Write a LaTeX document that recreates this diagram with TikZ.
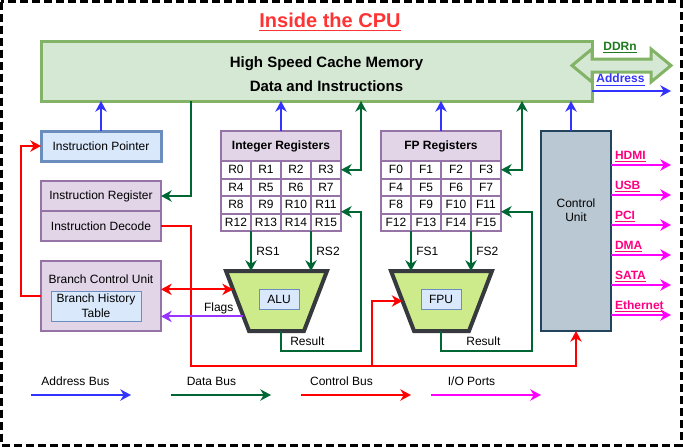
\documentclass[tikz,border=0pt]{standalone}
\usepackage{fontspec}
\setmainfont{Liberation Sans}
\usepackage{tikz}
\usetikzlibrary{arrows.meta, positioning, calc, shapes.geometric}

\definecolor{cachefill}{HTML}{D5E8D4}
\definecolor{cachedraw}{HTML}{82B366}
\definecolor{bluefill}{HTML}{DAE8FC}
\definecolor{bluedraw}{HTML}{6C8EBF}
\definecolor{purplefill}{HTML}{E1D5E7}
\definecolor{purpledraw}{HTML}{9673A6}
\definecolor{alufill}{HTML}{CDEB8B}
\definecolor{aludraw}{HTML}{36393D}
\definecolor{cufill}{HTML}{BAC8D3}
\definecolor{cudraw}{HTML}{23445D}
\definecolor{addrblue}{HTML}{3333FF}
\definecolor{datagreen}{HTML}{006633}
\definecolor{ctrlred}{HTML}{FF0000}
\definecolor{flagpurple}{HTML}{9933FF}
\definecolor{iomagenta}{HTML}{FF00FF}
\definecolor{iolabel}{HTML}{FF0080}
\definecolor{titlered}{HTML}{FF3333}
\definecolor{ddrgreen}{HTML}{1E7A1E}

\begin{document}
\begin{tikzpicture}[
			x=0.75pt, y=-0.75pt,
			>={Stealth[length=8pt, width=8.5pt, inset=2.5pt]},
			font=\fontsize{9}{10.8}\selectfont,
			every node/.style={inner sep=0pt, outer sep=0pt},
			cachebox/.style={draw=cachedraw, fill=cachefill, line width=2.25pt, minimum width=413.25pt, minimum height=45pt},
			ptrbox/.style={draw=bluedraw, fill=bluefill, line width=2.25pt, minimum width=90pt, minimum height=22.5pt},
			regbox/.style={draw=purpledraw, fill=purplefill, line width=1.5pt, minimum width=90pt, minimum height=22.5pt},
			cell/.style={draw=purpledraw, fill=white, line width=1.5pt, minimum width=22.5pt, minimum height=13.125pt},
			tablebox/.style={draw=bluedraw, fill=bluefill, line width=0.75pt, align=center, font=\fontsize{9}{11.25}\selectfont},
			unitbox/.style={trapezium, trapezium angle=69, shape border rotate=180, draw=aludraw, fill=alufill, line width=3pt, inner xsep=20.6pt, inner ysep=22.5pt},
			cubox/.style={draw=cudraw, fill=cufill, line width=1.1pt, minimum width=52.5pt, minimum height=150pt},
			boldtxt/.style={font=\fontsize{9}{10.8}\selectfont\bfseries},
			addrbus/.style={draw=addrblue, line width=1.5pt},
			databus/.style={draw=datagreen, line width=1.5pt},
			ctrlbus/.style={draw=ctrlred, line width=1.5pt},
			flagline/.style={draw=flagpurple, line width=1.5pt},
			iobus/.style={draw=iomagenta, line width=1.5pt}
			]
			\useasboundingbox (0,0) rectangle (683,447);
			\draw[line width=2.25pt, dash pattern=on 6pt off 3pt] (1.5,1.5) rectangle (681,445);
			
			% --- Cache and title ---
			\node[font=\fontsize{15}{18}\selectfont\bfseries, text=titlered] (title) at (330,22) {\underline{Inside the CPU}};
			\node[cachebox] (cache) at (316.5,71) {};
			\node[align=center, font=\fontsize{11.25}{18}\selectfont\bfseries] (cachetxt) at ($(cache.center)+(10,3)$) {High Speed Cache Memory\\Data and Instructions};
			\draw[draw=cachedraw, fill=cachefill, line width=2.25pt] (572,65.5) -- (592,49) -- (592,59) -- (651,59) -- (651,49) -- (671,65.5) -- (651,82) -- (651,72) -- (592,72) -- (592,82) -- cycle; % DDRn double arrow
			\node[boldtxt, text=ddrgreen] (ddrlbl) at (620,48) {\underline{DDRn}};
			\node[boldtxt, text=addrblue] (addrlbl) at (620.5,80) {\underline{Address}};
			\coordinate (memaddr) at (671,91);
			
			% --- Instruction side ---
			\node[ptrbox] (iptr) at (101,146) {Instruction Pointer};
			\node[regbox, below=15pt of iptr] (ireg) {Instruction Register};
			\node[regbox, below=0pt of ireg] (idec) {Instruction Decode};
			\node[regbox, below=15pt of idec, minimum height=52.5pt] (bcu) {};
			\node (bcutxt) at ($(bcu.north)+(0,18)$) {Branch Control Unit};
			\node[tablebox, minimum width=67.5pt, minimum height=22.5pt] (bht) at ($(bcu.center)+(-5,10)$) {Branch History\\Table};
			
			% --- Register files ---
			\node[regbox, boldtxt] (intregs) at (281,146) {Integer Registers};
			\node[regbox, boldtxt] (fpregs) at (441,146) {FP Registers};
			\foreach \n in {0,...,15} {
				\pgfmathtruncatemacro{\col}{mod(\n,4)}
				\pgfmathtruncatemacro{\row}{div(\n,4)}
				\node[cell] (r\n) at ({236+30*\col},{169.75+17.5*\row}) {R\n};
				\node[cell] (f\n) at ({396+30*\col},{169.75+17.5*\row}) {F\n};
			}
			
			% --- Execution units ---
			\node[unitbox] (alu) at (276.5,301) {};
			\node[tablebox, minimum width=30pt, minimum height=15pt] (alulbl) at (279,299) {ALU};
			\node[unitbox] (fpu) at (441.5,301) {};
			\node[tablebox, minimum width=30pt, minimum height=15pt] (fpulbl) at (441,299) {FPU};
			\node[cubox] (cu) at (576,231) {};
			\node[align=center] (cutxt) at ($(cu.center)+(0,-21)$) {Control\\Unit};
			
			% --- Address bus ---
			\draw[addrbus,->] (iptr.north) -- (iptr.north |- cache.south);
			\draw[addrbus,->] (intregs.north) -- (intregs.north |- cache.south);
			\draw[addrbus,->] (fpregs.north) -- (fpregs.north |- cache.south);
			\draw[addrbus,->] ([xshift=-3.75pt]cu.north) -- ([xshift=-3.75pt]cu.north |- cache.south);
			\draw[addrbus,->] ([yshift=7.5pt]cache.south east) -- (memaddr);
			
			% --- Data bus ---
			\coordinate (irtap) at (191,101);
			\coordinate (intbus) at (361,101);
			\coordinate (fpbus) at (522,101);
			\coordinate (intres) at (361,351);
			\coordinate (fpres) at (532,351);
			\draw[databus,->] (irtap) |- (ireg.east);
			\draw[databus,<->] (r3.east) -| (intbus);
			\draw[databus,<->] (f3.east) -| (fpbus);
			\draw[databus,->] (r12.south east) -- node[right=4pt] {RS1} (r12.south east |- alu.north);
			\draw[databus,->] (r14.south east) -- node[right=4pt] {RS2} (r14.south east |- alu.north);
			\draw[databus,->] (f12.south east) -- node[right=4pt] {FS1} (f12.south east |- fpu.north);
			\draw[databus,->] (f14.south east) -- node[right=4pt] {FS2} (f14.south east |- fpu.north);
			\draw[databus,->] (alu.south -| intregs) |- node[pos=0.25, right=7pt] {Result} (intres) |- ($(r11.east)+(0,7)$);
			\draw[databus,->] (fpu.south -| fpregs) |- node[pos=0.25, right=19pt] {Result} (fpres) |- ($(f11.east)+(0,7)$);
			
			% --- Control bus ---
			\coordinate (ctlbend) at (191,366);
			\coordinate (ctlfpu) at (372,366);
			\draw[ctrlbus,->] (idec.east) -| (ctlbend) -| (cu.south);
			\draw[ctrlbus,->] (ctlfpu) |- (fpu.west);
			\draw[ctrlbus,<->] (bcu.east |- alu.165) -- (alu.165);
			\draw[ctrlbus,->] (bcu.west) -- ++(-20,0) |- (iptr.west);
			\draw[flagline,->] (alu.205) -- node[pos=0.3, above=1.5pt] {Flags} (bcu.east |- alu.205);
			
			% --- I/O ports ---
			\foreach \port [count=\i] in {HDMI,USB,PCI,DMA,SATA,Ethernet} {
				\coordinate (iosrc\i) at ($(cu.north east)+(0,{30*\i+4})$);
				\coordinate (iodst\i) at ($(iosrc\i)+(60,0)$);
				\draw[iobus,->] (iosrc\i) -- (iodst\i);
				\node[boldtxt, text=iolabel, anchor=south west] (io\i) at ($(iosrc\i)+(4,-3)$) {\underline{\port}};
			}
			
			% --- Legend ---
			\foreach \lbl/\sty/\xa/\xb/\xt [count=\i] in {Address Bus/addrbus/31/131/75.5, Data Bus/databus/171/271/211.5, Control Bus/ctrlbus/301/411/341.5, {I/O Ports}/iobus/431/541/471.5} {
				\coordinate (keya\i) at (\xa,395);
				\coordinate (keyb\i) at (\xb,395);
				\draw[\sty,->] (keya\i) -- (keyb\i);
				\node (keytxt\i) at (\xt,381) {\lbl};
			}
			
		\end{tikzpicture}
\end{document}
